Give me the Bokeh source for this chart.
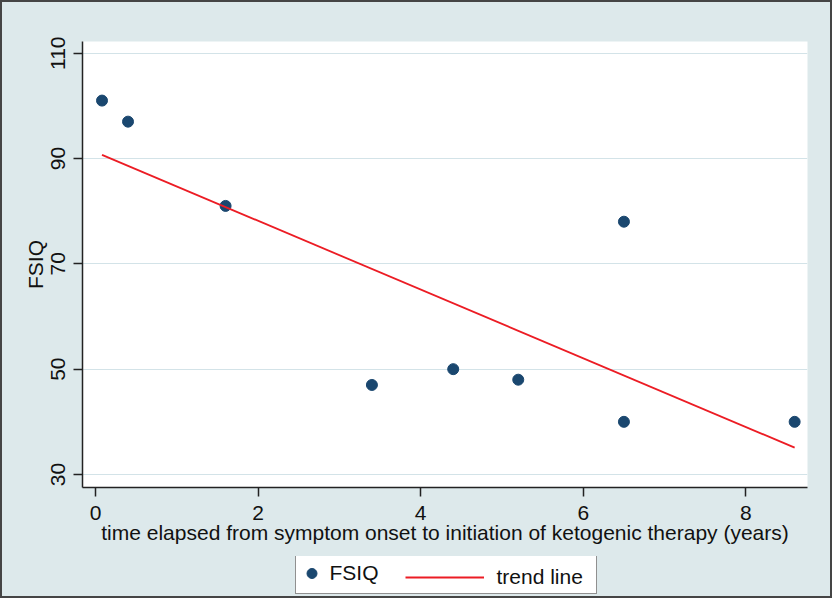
from bokeh.plotting import figure
from bokeh.models import Range1d, FixedTicker, Legend, LegendItem
from bokeh.layouts import column
from bokeh.embed import file_html
from bokeh.resources import INLINE

# ---- data ----
years = [0.08, 0.4, 1.6, 3.4, 4.4, 5.2, 6.5, 6.5, 8.6]
fsiq = [101, 97, 81, 47, 50, 48, 78, 40, 40]
trend_x = [0.08, 8.6]
trend_y = [90.7, 35.1]
x_ticks = [0, 2, 4, 6, 8]
y_ticks = [30, 50, 70, 90, 110]

BG = "#dde9eb"
NAVY = "#1a476f"
RED = "#ec1c24"
AXIS = "#222222"
FONT = "Liberation Sans"
FS = "21px"

# ---------------- main plot ----------------
p = figure(width=832, height=556, output_backend="svg", toolbar_location=None,
           x_range=Range1d(-0.16, 8.758), y_range=Range1d(27.53, 112.22),
           min_border_left=82, min_border_right=25, min_border_top=41,
           min_border_bottom=69)
p.border_fill_color = BG
p.background_fill_color = "white"
p.outline_line_color = None

p.scatter(years, fsiq, size=11, color=NAVY)
p.line(trend_x, trend_y, color=RED, line_width=1.8)

for ax in (p.xaxis[0], p.yaxis[0]):
    ax.axis_line_color = AXIS
    ax.axis_line_width = 1.5
    ax.major_tick_line_color = AXIS
    ax.major_tick_line_width = 1.5
    ax.major_tick_out = 9
    ax.major_tick_in = 0
    ax.minor_tick_line_color = None
    ax.major_label_text_font = FONT
    ax.major_label_text_font_size = FS
    ax.major_label_text_color = "#111111"
    ax.axis_label_text_font = FONT
    ax.axis_label_text_font_size = FS
    ax.axis_label_text_font_style = "normal"
    ax.axis_label_text_color = "#111111"

p.xaxis.ticker = FixedTicker(ticks=x_ticks)
p.yaxis.ticker = FixedTicker(ticks=y_ticks)
p.xaxis.axis_label = "time elapsed from symptom onset to initiation of ketogenic therapy (years)"
p.yaxis.axis_label = "FSIQ"
p.yaxis.major_label_orientation = "vertical"
p.xaxis.major_label_standoff = 9
p.xaxis.axis_label_standoff = -2
p.yaxis.major_label_standoff = 8
p.yaxis.axis_label_standoff = 2

p.xgrid.grid_line_color = None
p.ygrid.grid_line_color = "#d3e3e8"
p.ygrid.grid_line_width = 1.2

# ---------------- legend strip ----------------
leg = figure(width=832, height=42, output_backend="svg", toolbar_location=None,
             x_range=p.x_range, y_range=Range1d(1000, 1001),
             x_axis_location=None, y_axis_location=None,
             min_border_left=0, min_border_right=0, min_border_top=0,
             min_border_bottom=0)
leg.border_fill_color = BG
leg.background_fill_color = BG
leg.outline_line_color = None
leg.grid.grid_line_color = None
# same series, outside this strip's visible range: used only for the legend keys
k_pts = leg.scatter(years, fsiq, size=11, color=NAVY)
k_line = leg.line(trend_x, trend_y, color=RED, line_width=1.8)

common = dict(orientation="horizontal", margin=0, padding=3, spacing=0,
              glyph_height=34, label_text_font=FONT, label_text_font_size=FS,
              label_text_color="#111111")
leg_a = Legend(items=[LegendItem(label="FSIQ", renderers=[k_pts])],
               location=(212.5, 4), glyph_width=25, label_standoff=6,
               label_width=263, border_line_color=AXIS, border_line_width=1.3,
               background_fill_color="white", background_fill_alpha=1.0, **common)
leg_b = Legend(items=[LegendItem(label="trend line", renderers=[k_line])],
               location=(322.5, 4), glyph_width=79, label_standoff=13,
               border_line_color=None, background_fill_alpha=0.0, **common)
leg.add_layout(leg_a)
leg.add_layout(leg_b)

layout = column(p, leg, spacing=0)

html = file_html(layout, INLINE, title="FSIQ vs time to ketogenic therapy")
html = html.replace("</head>",
                    "<style>html{background:%s;}"
                    "body::after{content:'';position:absolute;left:0;top:0;"
                    "width:832px;height:598px;box-sizing:border-box;"
                    "border:2px solid #454545;pointer-events:none;z-index:10;}"
                    "</style></head>" % BG, 1)
open("out.html", "w").write(html)
